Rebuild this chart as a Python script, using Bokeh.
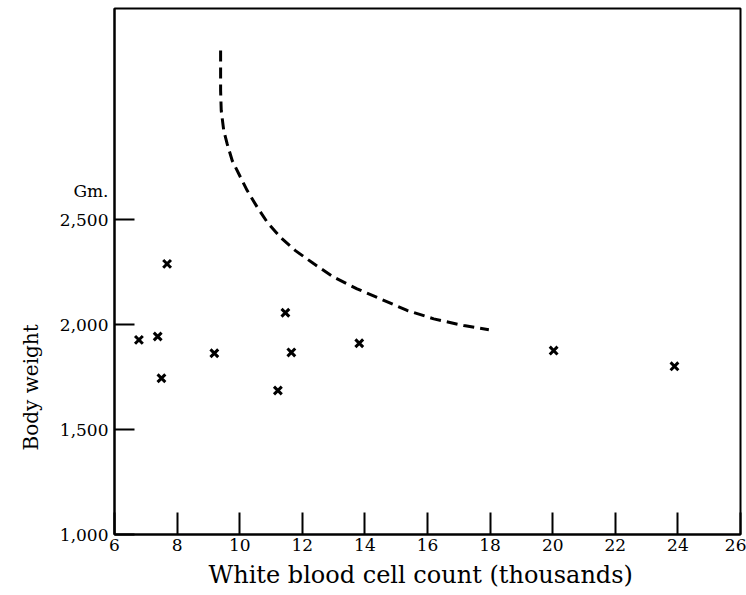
from bokeh.plotting import figure
from bokeh.models import Range1d, FixedTicker, Title
from bokeh.embed import file_html
from bokeh.resources import INLINE

# Data
wbc_thousands = [6.78, 7.38, 7.68, 7.50, 9.19, 11.46, 11.65, 11.22, 13.82, 20.03, 23.89]
body_weight_gm = [1927, 1943, 2289, 1744, 1863, 2056, 1867, 1686, 1911, 1876, 1801]

curve_x = [9.39, 9.39, 9.41, 9.49, 9.60, 9.76, 9.97, 10.24, 10.56, 10.88, 11.30, 11.78,
           12.37, 13.01, 13.75, 14.50, 15.35, 16.20, 17.16, 17.96]
curve_y = [3305, 3114, 3019, 2924, 2860, 2781, 2718, 2638, 2559, 2487, 2416, 2352,
           2289, 2225, 2170, 2122, 2067, 2027, 1995, 1975]

x_ticks = [6, 8, 10, 12, 14, 16, 18, 20, 22, 24, 26]
y_ticks = [1000, 1500, 2000, 2500]
y_tick_labels = {1000: "1,000", 1500: "1,500", 2000: "2,000", 2500: "2,500"}
unit_label = "Gm."
unit_label_at = 2638  # where the unit text sits on the weight axis

FONT = "DejaVu Serif"

p = figure(width=746, height=595, output_backend="svg", toolbar_location=None,
           x_range=Range1d(6, 26), y_range=Range1d(1000, 3505),
           min_border_left=114, min_border_right=6, min_border_top=8, min_border_bottom=61)

p.xgrid.visible = False
p.ygrid.visible = False
p.background_fill_color = "white"
p.border_fill_color = "white"
p.outline_line_color = "black"
p.outline_line_width = 2

for ax in (p.xaxis[0], p.yaxis[0]):
    ax.axis_line_width = 2
    ax.axis_line_color = "black"
    ax.major_tick_out = 0
    ax.minor_tick_out = 0
    ax.major_label_text_font = FONT
    ax.major_label_text_font_size = "17px"
    ax.major_label_text_color = "black"

# x axis: ticks pointing inward
xa = p.xaxis[0]
xa.ticker = FixedTicker(ticks=x_ticks)
xa.major_tick_in = 22
xa.major_tick_line_width = 2
xa.major_tick_line_color = "black"
xa.minor_tick_line_color = None
xa.major_label_standoff = 4

# y axis: labels (incl. the unit) on major ticks, tick marks drawn as minor ticks
ya = p.yaxis[0]
ya.ticker = FixedTicker(ticks=y_ticks + [unit_label_at], minor_ticks=y_ticks)
ya.major_tick_line_color = None
ya.major_tick_in = 0
ya.minor_tick_in = 20
ya.minor_tick_line_width = 2
ya.minor_tick_line_color = "black"
overrides = {k: v for k, v in y_tick_labels.items()}
overrides[unit_label_at] = unit_label
ya.major_label_overrides = overrides
ya.major_label_standoff = 6

# dashed curve
p.line(curve_x, curve_y, line_color="black", line_width=3, line_dash="11 6", line_join="round")

# crosses
p.scatter(wbc_thousands, body_weight_gm, marker="x", size=11, line_width=3, line_color="black")

# x title, positioned as in the original (slightly left of centre)
p.add_layout(Title(text="White blood cell count (thousands)", align="left", offset=94, standoff=10,
                   text_font=FONT, text_font_size="24px", text_font_style="normal",
                   text_color="black"), "below")

# y title placed low on the left side, as in the original
p.add_layout(Title(text="Body weight", align="left", offset=84, standoff=27,
                   text_font=FONT, text_font_size="20px", text_font_style="normal",
                   text_color="black"), "left")

open("out.html", "w").write(file_html(p, INLINE))
